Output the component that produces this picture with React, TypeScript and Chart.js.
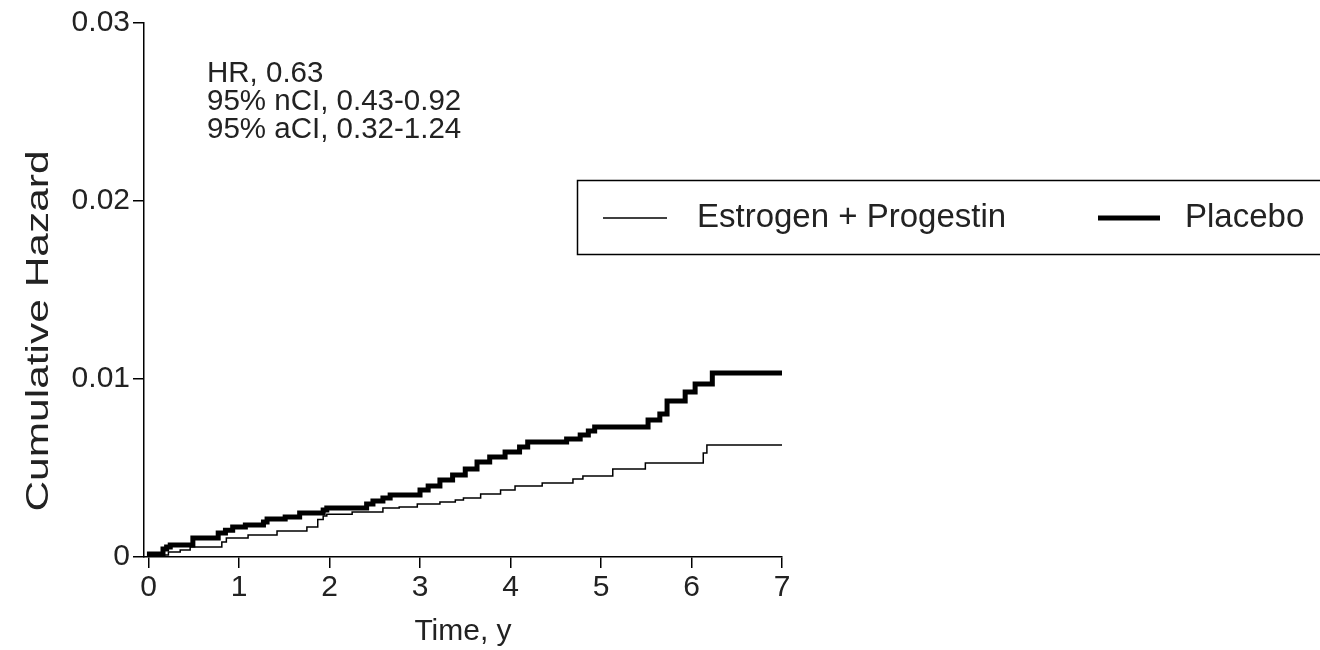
import React, { useEffect, useRef } from "react";
import { Chart, registerables } from "chart.js";

Chart.register(...registerables);

// Time (years) at which each step occurs, and cumulative hazard after it
const placeboTimes = [0, 0.01, 0.16, 0.2, 0.24, 0.49, 0.77, 0.85, 0.93, 1.07, 1.27, 1.31, 1.51, 1.67, 1.93, 1.97, 2.41, 2.48, 2.59, 2.67, 3.0, 3.09, 3.22, 3.36, 3.5, 3.63, 3.77, 3.94, 4.1, 4.19, 4.62, 4.77, 4.86, 4.93, 5.52, 5.65, 5.73, 5.93, 6.04, 6.23, 7.0];
const placeboHazard = [0, 0.00017, 0.00045, 0.00056, 0.00067, 0.00107, 0.00135, 0.0015, 0.00169, 0.0018, 0.00197, 0.00213, 0.00225, 0.00247, 0.00264, 0.00275, 0.00298, 0.00315, 0.00331, 0.00348, 0.00376, 0.00399, 0.00433, 0.00461, 0.00494, 0.00534, 0.00562, 0.0059, 0.00618, 0.00646, 0.00663, 0.00685, 0.00708, 0.0073, 0.0077, 0.00803, 0.00876, 0.00927, 0.00972, 0.01034, 0.01034];

const epTimes = [0, 0.07, 0.22, 0.35, 0.46, 0.81, 0.86, 1.1, 1.42, 1.75, 1.87, 1.93, 1.97, 2.25, 2.59, 2.77, 2.97, 3.22, 3.39, 3.48, 3.67, 3.89, 4.05, 4.35, 4.69, 4.8, 5.13, 5.49, 6.13, 6.17, 7.0];
const epHazard = [0, 0.00011, 0.00028, 0.0004, 0.00056, 0.00084, 0.00107, 0.00124, 0.00146, 0.00169, 0.0021, 0.0023, 0.0024, 0.00253, 0.00275, 0.00281, 0.00298, 0.00309, 0.0032, 0.00331, 0.00354, 0.00376, 0.00399, 0.00416, 0.00438, 0.00455, 0.00494, 0.00528, 0.00584, 0.00629, 0.00629];

const xTicks = [0, 1, 2, 3, 4, 5, 6, 7];
const seriesLabels = ["Estrogen + Progestin", "Placebo"];
const statLines = ["HR, 0.63", "95% nCI, 0.43-0.92", "95% aCI, 0.32-1.24"];
const xTitle = "Time, y";
const yTitle = "Cumulative Hazard";

const FONT = "'Liberation Sans', Arial, sans-serif";
const TEXT = "#222";

const overlayPlugin = {
  id: "overlay",
  afterDraw(chart: any) {
    const ctx = chart.ctx as CanvasRenderingContext2D;
    const area = chart.chartArea;
    ctx.save();
    ctx.fillStyle = TEXT;
    // stats text
    ctx.font = `29.5px ${FONT}`;
    ctx.textAlign = "left";
    ctx.textBaseline = "middle";
    statLines.forEach((s, i) => ctx.fillText(s, 207, 74 + i * 28));
    // x title
    ctx.font = `30px ${FONT}`;
    ctx.textAlign = "center";
    ctx.fillText(xTitle, (area.left + area.right) / 2, 632);
    // y title
    ctx.save();
    ctx.translate(39, 331);
    ctx.rotate(-Math.PI / 2);
    ctx.scale(1.37, 1);
    ctx.font = `31px ${FONT}`;
    ctx.fillText(yTitle, 0, 0);
    ctx.restore();
    // legend box
    ctx.strokeStyle = "#000";
    ctx.lineWidth = 1.5;
    ctx.strokeRect(577.5, 180.5, 760, 74);
    ctx.beginPath();
    ctx.lineWidth = 1.5;
    ctx.moveTo(603, 218);
    ctx.lineTo(667, 218);
    ctx.stroke();
    ctx.beginPath();
    ctx.lineWidth = 5;
    ctx.moveTo(1098, 218);
    ctx.lineTo(1160, 218);
    ctx.stroke();
    ctx.font = `33px ${FONT}`;
    ctx.textAlign = "left";
    ctx.fillText(seriesLabels[0], 697, 218);
    ctx.fillText(seriesLabels[1], 1185, 218);
    ctx.restore();
  },
};

export default function App() {
  const ref = useRef<HTMLCanvasElement | null>(null);
  useEffect(() => {
    if (!ref.current) return;
    const chart = new Chart(ref.current, {
      type: "line",
      data: {
        datasets: [
          {
            label: seriesLabels[0],
            data: epTimes.map((t, i) => ({ x: t, y: epHazard[i] })),
            borderColor: "#000",
            borderWidth: 1.5,
            pointRadius: 0,
            stepped: true,
            fill: false,
          },
          {
            label: seriesLabels[1],
            data: placeboTimes.map((t, i) => ({ x: t, y: placeboHazard[i] })),
            borderColor: "#000",
            borderWidth: 5,
            pointRadius: 0,
            stepped: true,
            fill: false,
          },
        ],
      },
      options: {
        animation: false,
        responsive: false,
        layout: { padding: { top: 23, right: 538, left: 0, bottom: 0 } },
        plugins: { legend: { display: false }, tooltip: { enabled: false } },
        scales: {
          x: {
            type: "linear",
            min: -0.05,
            max: 7,
            afterFit(scale: any) {
              scale.height = 93;
            },
            afterBuildTicks(scale: any) {
              scale.ticks = xTicks.map((v) => ({ value: v }));
            },
            ticks: {
              font: { family: FONT, size: 30 },
              color: TEXT,
              padding: 2,
              maxRotation: 0,
              callback: (v: any) => String(v),
            },
            grid: { drawOnChartArea: false, drawTicks: true, tickLength: 11, color: "#000", lineWidth: 1.5 },
            border: { display: true, color: "#000", width: 1.5 },
          },
          y: {
            type: "linear",
            min: 0,
            max: 0.03,
            afterFit(scale: any) {
              scale.width = 144;
            },
            ticks: {
              stepSize: 0.01,
              font: { family: FONT, size: 30 },
              color: TEXT,
              padding: 3,
              callback: (v: any) => (Number(v) === 0 ? "0" : Number(v).toFixed(2)),
            },
            grid: { drawOnChartArea: false, drawTicks: true, tickLength: 11, color: "#000", lineWidth: 1.5 },
            border: { display: true, color: "#000", width: 1.5 },
          },
        },
      },
      plugins: [overlayPlugin],
    });
    return () => chart.destroy();
  }, []);
  return (
    <div style={{ position: "absolute", left: 0, top: 0, width: 1320, height: 650, background: "#fff" }}>
      <canvas ref={ref} width={1320} height={650} style={{ display: "block", width: 1320, height: 650 }} />
    </div>
  );
}
